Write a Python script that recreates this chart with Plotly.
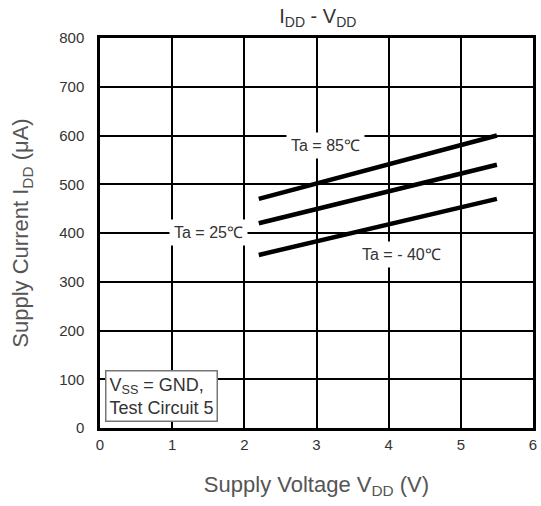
import plotly.graph_objects as go

# Data
vdd = [2.2, 5.5]
idd_85 = [470, 600]
idd_25 = [420, 540]
idd_m40 = [355, 470]
x_ticks = [0, 1, 2, 3, 4, 5, 6]
y_ticks = [0, 100, 200, 300, 400, 500, 600, 700, 800]

FONT = "Liberation Sans, Arial, sans-serif"
fig = go.Figure()
for ys in (idd_85, idd_25, idd_m40):
    fig.add_trace(go.Scatter(x=vdd, y=ys, mode="lines",
                             line=dict(color="black", width=4.5),
                             showlegend=False, hoverinfo="skip"))

fig.update_layout(
    width=541, height=506,
    margin=dict(l=100, r=8, t=38, b=78, autoexpand=False),
    plot_bgcolor="white", paper_bgcolor="white",
    font=dict(family=FONT, color="#333333", size=15),
    title=dict(text="I<sub>DD</sub> - V<sub>DD</sub>", x=0.5875, xanchor="center",
               y=0.982, yanchor="top", font=dict(size=20, color="#333333")),
    xaxis=dict(range=[0, 6], tickvals=x_ticks, showgrid=True, gridcolor="black",
               gridwidth=1.5, showline=True, linecolor="black", linewidth=2.5,
               mirror=True, zeroline=False, ticks="outside", ticklen=1, tickcolor="white",
               tickfont=dict(size=15, color="#333333"), automargin=False,
               title=dict(text="Supply Voltage V<sub>DD</sub> (V)", standoff=25,
                          font=dict(size=22, color="#555555"))),
    yaxis=dict(range=[0, 800], tickvals=y_ticks, showgrid=True, gridcolor="black",
               gridwidth=1.5, showline=True, linecolor="black", linewidth=2.5,
               mirror=True, zeroline=False, ticks="outside", ticklen=10, tickcolor="white",
               tickfont=dict(size=15, color="#333333"), automargin=False,
               title=dict(text="Supply Current I<sub>DD</sub> (μA)", standoff=25,
                          font=dict(size=22, color="#555555"))),
)

def lab(x, y, t):
    fig.add_annotation(x=x, y=y, text=t, showarrow=False, bgcolor="white",
                       font=dict(size=16, color="#333333"), borderpad=4)

lab(3.12, 580, "Ta = 85℃")
lab(1.51, 402, "Ta = 25℃")
lab(4.18, 355, "Ta = - 40℃")

fig.add_annotation(x=0.07, y=12, xanchor="left", yanchor="bottom", align="left",
                   text="V<sub>SS</sub> = GND,<br>Test Circuit 5", showarrow=False,
                   bgcolor="white", bordercolor="#777777", borderwidth=1.5, borderpad=3,
                   font=dict(size=18, color="#333333"))

fig.write_html("out.html")
